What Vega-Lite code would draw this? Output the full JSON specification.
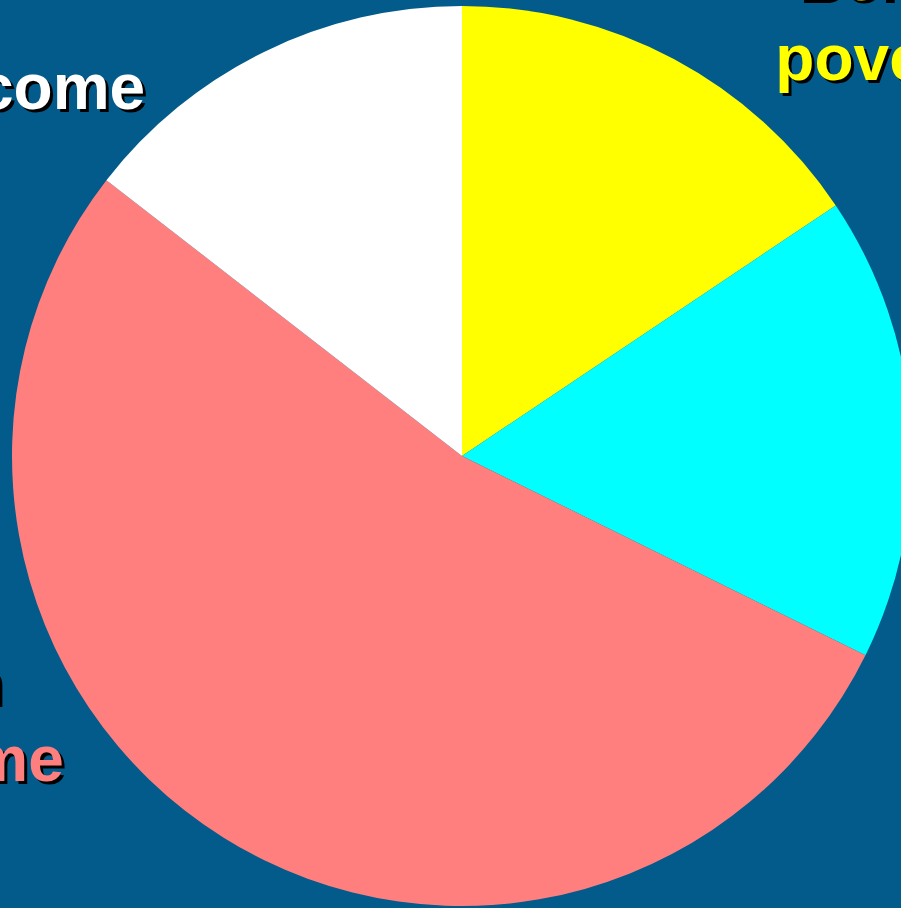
{
  "$schema": "https://vega.github.io/schema/vega-lite/v6.json",
  "width": 878,
  "height": 904,
  "padding": {"left": 23, "top": 4, "right": 0, "bottom": 0},
  "autosize": {"type": "none"},
  "background": "#025B8A",
  "config": {"view": {"stroke": null}},
  "data": {
    "values": [
      {"group": "Below poverty", "label": "Below\npoverty", "share": 15.6, "rank": 1},
      {"group": "Near poverty", "label": "Near\npoverty", "share": 16.7, "rank": 2},
      {"group": "Mean income", "label": "Mean\nincome", "share": 53.2, "rank": 3},
      {"group": "High income", "label": "High income", "share": 14.5, "rank": 4}
    ]
  },
  "encoding": {
    "theta": {"field": "share", "type": "quantitative", "stack": true},
    "order": {"field": "rank", "type": "quantitative"}
  },
  "layer": [
    {
      "mark": {"type": "arc", "radius": 450, "strokeWidth": 0},
      "encoding": {
        "color": {
          "field": "group",
          "type": "nominal",
          "scale": {
            "domain": ["Below poverty", "Near poverty", "Mean income", "High income"],
            "range": ["#FFFF00", "#00FFFF", "#FF7F7F", "#FFFFFF"]
          },
          "legend": null
        }
      }
    },
    {
      "mark": {"type": "text", "radius": 514, "dx": 190, "dy": 0, "align": "center", "baseline": "alphabetic", "fontSize": 64, "fontWeight": "bold", "font": "Liberation Sans", "lineHeight": 80, "lineBreak": "\n", "fill": "black"},
      "encoding": {"text": {"condition": {"test": "datum.rank == 1", "field": "label"}, "value": ""}}
    },
    {
      "mark": {"type": "text", "radius": 514, "dx": 187, "dy": -3, "align": "center", "baseline": "alphabetic", "fontSize": 64, "fontWeight": "bold", "font": "Liberation Sans", "lineHeight": 80, "lineBreak": "\n", "fill": "#FFFF00"},
      "encoding": {"text": {"condition": {"test": "datum.rank == 1", "field": "label"}, "value": ""}}
    },
    {
      "mark": {"type": "text", "radius": 386, "dx": -144, "dy": 3, "align": "right", "baseline": "alphabetic", "fontSize": 64, "fontWeight": "bold", "font": "Liberation Sans", "lineHeight": 77, "lineBreak": "\n", "fill": "black"},
      "encoding": {"text": {"condition": {"test": "datum.rank == 4", "field": "label"}, "value": ""}}
    },
    {
      "mark": {"type": "text", "radius": 386, "dx": -147, "dy": 0, "align": "right", "baseline": "alphabetic", "fontSize": 64, "fontWeight": "bold", "font": "Liberation Sans", "lineHeight": 77, "lineBreak": "\n", "fill": "#FFFFFF"},
      "encoding": {"text": {"condition": {"test": "datum.rank == 4", "field": "label"}, "value": ""}}
    },
    {
      "mark": {"type": "text", "radius": 470, "dx": -370, "dy": -147, "align": "left", "baseline": "alphabetic", "fontSize": 64, "fontWeight": "bold", "font": "Liberation Sans", "lineHeight": 77, "lineBreak": "\n", "fill": "black"},
      "encoding": {"text": {"condition": {"test": "datum.rank == 3", "field": "label"}, "value": ""}}
    },
    {
      "mark": {"type": "text", "radius": 470, "dx": -373, "dy": -150, "align": "left", "baseline": "alphabetic", "fontSize": 64, "fontWeight": "bold", "font": "Liberation Sans", "lineHeight": 77, "lineBreak": "\n", "fill": "#FF7F7F"},
      "encoding": {"text": {"condition": {"test": "datum.rank == 3", "field": "label"}, "value": ""}}
    }
  ]
}
